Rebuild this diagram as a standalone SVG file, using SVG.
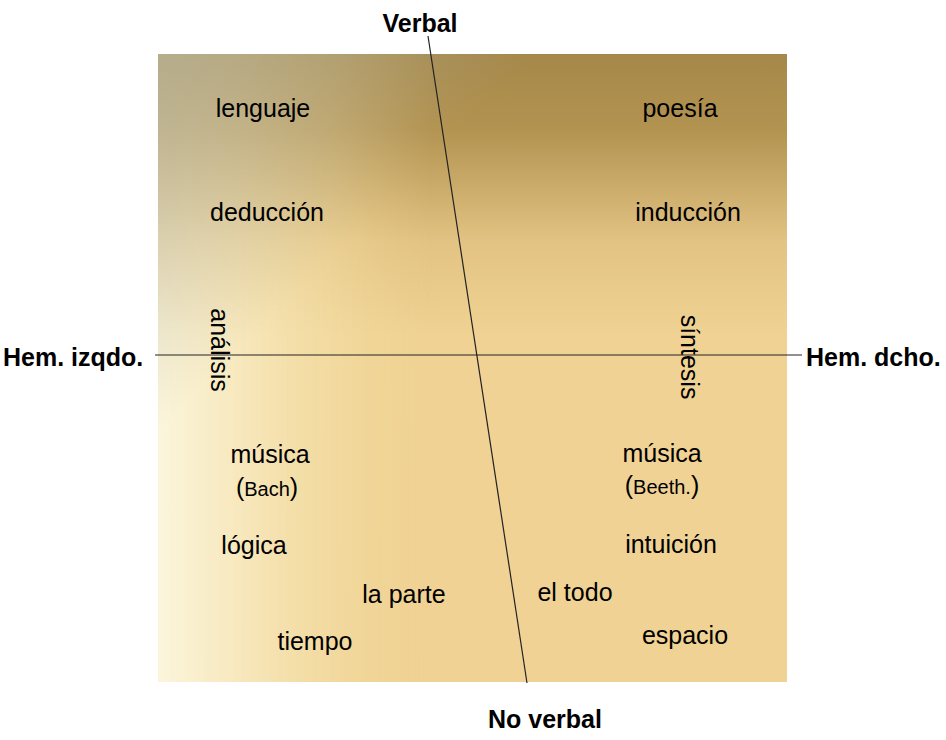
<svg xmlns="http://www.w3.org/2000/svg" width="946" height="740" viewBox="0 0 946 740">
<defs>
<linearGradient id="gv" x1="0" y1="0" x2="0" y2="1">
<stop offset="0" stop-color="#a5884a"/>
<stop offset="0.12" stop-color="#b39350"/>
<stop offset="0.3" stop-color="#e2c383"/>
<stop offset="0.45" stop-color="#f0d394"/>
<stop offset="1" stop-color="#f0d294"/>
</linearGradient>
<linearGradient id="gh" x1="0" y1="0" x2="1" y2="0">
<stop offset="0" stop-color="#fbf5dc" stop-opacity="1"/>
<stop offset="0.12" stop-color="#f8ebc4" stop-opacity="0.9"/>
<stop offset="0.28" stop-color="#f4dfa8" stop-opacity="0.55"/>
<stop offset="0.44" stop-color="#f0d394" stop-opacity="0"/>
</linearGradient>
<linearGradient id="gm" x1="0" y1="0" x2="0" y2="1">
<stop offset="0" stop-color="#fff" stop-opacity="0.3"/>
<stop offset="0.25" stop-color="#fff" stop-opacity="0.65"/>
<stop offset="0.45" stop-color="#fff" stop-opacity="1"/>
</linearGradient>
<linearGradient id="gg" x1="0" y1="0" x2="1" y2="1">
<stop offset="0" stop-color="#b4ae92" stop-opacity="0.8"/>
<stop offset="0.3" stop-color="#b4ae92" stop-opacity="0"/>
</linearGradient>
<mask id="mk" maskUnits="userSpaceOnUse" x="158" y="54" width="629" height="628">
<rect x="158" y="54" width="629" height="628" fill="url(#gm)"/>
</mask>
<style>
.t{font-family:"Liberation Sans",Arial,sans-serif;font-size:25px;fill:#000;text-anchor:middle}
.b{font-family:"Liberation Sans",Arial,sans-serif;font-size:25px;font-weight:bold;fill:#000}
.s{font-size:20px}
.ax{stroke:#222;stroke-width:1.2;fill:none}
</style>
</defs>
<rect width="946" height="740" fill="#fff"/>
<g id="panel">
<rect x="158" y="54" width="629" height="628" fill="url(#gv)"/>
<rect x="158" y="54" width="629" height="628" fill="url(#gh)" mask="url(#mk)"/>
<rect x="158" y="54" width="629" height="628" fill="url(#gg)"/>
</g>
<g id="connectors">
<line class="ax" x1="155" y1="355" x2="802" y2="355"/>
<line class="ax" x1="428" y1="36" x2="527" y2="683"/>
</g>
<g id="axis-labels">
<text id="verbal" class="b" x="420" y="32" text-anchor="middle">Verbal</text>
<text id="noverbal" class="b" x="545" y="728" text-anchor="middle">No verbal</text>
<text id="izq" class="b" x="3" y="366">Hem. izqdo.</text>
<text id="dch" class="b" x="806" y="366">Hem. dcho.</text>
</g>
<g id="lenguaje"><text class="t" x="263" y="117">lenguaje</text></g>
<g id="poesia"><text class="t" x="680" y="117">poesía</text></g>
<g id="deduccion"><text class="t" x="267" y="221">deducción</text></g>
<g id="induccion"><text class="t" x="688" y="221">inducción</text></g>
<g id="analisis"><text class="t" transform="translate(211,350) rotate(90)">análisis</text></g>
<g id="sintesis"><text class="t" transform="translate(681,357) rotate(90)">síntesis</text></g>
<g id="musica-bach"><text class="t" x="270" y="463">música</text><text class="t" x="267" y="496">(<tspan class="s">Bach</tspan>)</text></g>
<g id="musica-beeth"><text class="t" x="662" y="462">música</text><text class="t" x="662" y="494">(<tspan class="s">Beeth.</tspan>)</text></g>
<g id="logica"><text class="t" x="254" y="554">lógica</text></g>
<g id="intuicion"><text class="t" x="671" y="553">intuición</text></g>
<g id="laparte"><text class="t" x="404" y="603">la parte</text></g>
<g id="eltodo"><text class="t" x="575" y="601">el todo</text></g>
<g id="tiempo"><text class="t" x="315" y="650">tiempo</text></g>
<g id="espacio"><text class="t" x="685" y="644">espacio</text></g>
</svg>
